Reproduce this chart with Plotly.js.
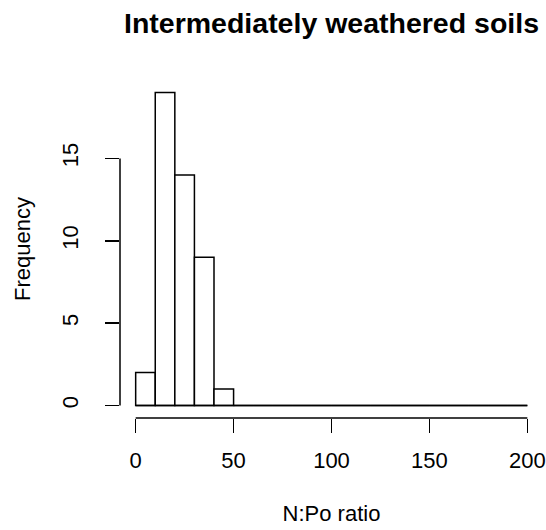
<!DOCTYPE html>
<html>
<head>
<meta charset="utf-8">
<script src="https://cdn.plot.ly/plotly-3.0.1.min.js"></script>
<style>html,body{margin:0;padding:0;background:#fff;}#chart{width:546px;height:530px;}</style>
</head>
<body>
<div id="chart"></div>
<script>
// Histogram of N:Po ratio, bins of width 10 from 0 to 200
const binEdges = [0,10,20,30,40,50,60,70,80,90,100,110,120,130,140,150,160,170,180,190,200];
const counts = [2,19,14,9,1,0,0,0,0,0,0,0,0,0,0,0,0,0,0,0];
const xTicks = [0,50,100,150,200];
const yTicks = [0,5,10,15];

const mids = counts.map((c,i)=>(binEdges[i]+binEdges[i+1])/2);
const widths = counts.map((c,i)=>binEdges[i+1]-binEdges[i]);

const font = {family: '"Liberation Sans", Arial, Helvetica, sans-serif', color: '#000'};

const bars = {
  type: 'bar', x: mids, y: counts, width: widths,
  marker: {color: '#ffffff', line: {color: '#000', width: 1.5}},
  hoverinfo: 'skip', showlegend: false
};
// baseline for empty bins (R draws zero-height rectangles as a line)
const base = {
  type: 'scatter', mode: 'lines',
  x: [binEdges[0], binEdges[binEdges.length-1]], y: [0,0],
  line: {color: '#000', width: 1.5}, hoverinfo: 'skip', showlegend: false
};
// invisible trace to activate the label axis
const labelAxisTrace = {
  type: 'scatter', mode: 'none', x: [binEdges[0]], y: [yTicks[0]], yaxis: 'y2',
  hoverinfo: 'skip', showlegend: false
};

const yRange = [-0.76, 19.76];

const layout = {
  width: 546, height: 530,
  margin: {l: 120, r: 3, t: 80, b: 112},
  paper_bgcolor: '#fff', plot_bgcolor: '#fff',
  font: Object.assign({size: 22}, font),
  title: {text: '<b>Intermediately weathered soils</b>', font: Object.assign({size: 28.5}, font),
          x: 0.5, xanchor: 'center', xref: 'paper', y: 1 - 23/530, yanchor: 'middle', yref: 'container'},
  xaxis: {
    range: [-8, 208], tickvals: xTicks, ticktext: xTicks.map(String),
    ticks: 'outside', ticklen: 14, tickwidth: 1.5, tickcolor: '#000',
    showgrid: false, zeroline: false, showline: false,
    ticklabelstandoff: 9,
    tickfont: Object.assign({size: 22}, font),
    title: {text: 'N:Po ratio', font: Object.assign({size: 22}, font), standoff: 33}
  },
  yaxis: {
    range: yRange, tickvals: yTicks,
    ticks: 'outside', ticklen: 14, tickwidth: 1.5, tickcolor: '#000',
    showticklabels: false,
    showgrid: false, zeroline: false, showline: false
  },
  yaxis2: {
    overlaying: 'y', anchor: 'x', side: 'left',
    range: yRange, tickvals: yTicks, ticktext: yTicks.map(String),
    ticks: 'outside', ticklen: 32, tickwidth: 1, tickcolor: 'rgba(255,255,255,0)',
    tickangle: -90,
    showgrid: false, zeroline: false, showline: false,
    tickfont: Object.assign({size: 22}, font),
    title: {text: 'Frequency', font: Object.assign({size: 22}, font), standoff: 21}
  },
  shapes: [
    {type: 'line', xref: 'x', yref: 'paper', x0: xTicks[0], x1: xTicks[xTicks.length-1], y0: 0, y1: 0,
     line: {color: '#000', width: 1.5}},
    {type: 'line', xref: 'paper', yref: 'y', x0: 0, x1: 0, y0: yTicks[0], y1: yTicks[yTicks.length-1],
     line: {color: '#000', width: 1.5}}
  ]
};

Plotly.newPlot('chart', [bars, base, labelAxisTrace], layout, {displayModeBar: false, staticPlot: true});
</script>
</body>
</html>
